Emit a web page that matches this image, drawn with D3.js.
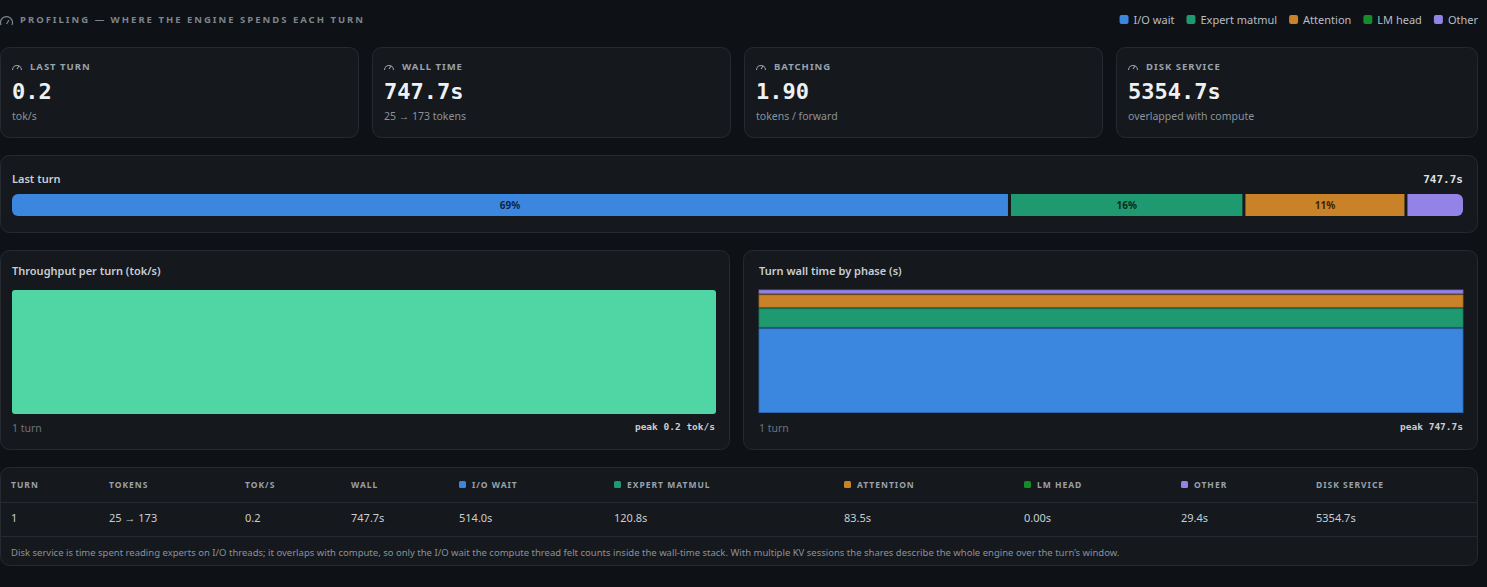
<!DOCTYPE html>
<html lang="en">
<head>
<meta charset="UTF-8">
<title>Profiling</title>
<script src="https://d3js.org/d3.v7.min.js"></script>
<style>
  body { margin: 0; background: #0e1115; font-family: "Noto Sans", "Open Sans", sans-serif; }
  text { font-family: "Noto Sans", "Open Sans", sans-serif; }
  .mono { font-family: "DejaVu Sans Mono", "Liberation Mono", monospace; font-weight: bold; }
  .card { fill: #15181c; stroke: #262a30; stroke-width: 1; }
  .cap { fill: #9aa1aa; font-size: 9.5px; font-weight: 700; letter-spacing: 1px; }
  .sub { fill: #8b929b; font-size: 10.5px; }
  .title { fill: #c9ced4; font-size: 11px; font-weight: 600; }
</style>
</head>
<body>
<svg id="chart" width="1487" height="587"></svg>
<script>
const phases = ["I/O wait", "Expert matmul", "Attention", "LM head", "Other"];
const phaseColors = ["#3b87e0", "#1f9a70", "#c98228", "#178a2a", "#9383e6"];
const turns = [1];
const tokensIn = [25];
const tokensOut = [173];
const tokPerSec = [0.2];
const wall = [747.7];
const phaseSeconds = [[514.0], [120.8], [83.5], [0.00], [29.4]];
const diskService = [5354.7];
const batching = 1.90;

const svg = d3.select("#chart");

// header
svg.append("path").attr("d", "M1,25 A6,6 0 1 1 12,25 M6.5,24 L9,20").attr("fill", "none").attr("stroke", "#7d848d").attr("stroke-width", 1.2);
svg.append("text").attr("class", "cap").attr("x", 20).attr("y", 23).style("fill", "#7d848d")
  .style("letter-spacing", "2px").text("PROFILING — WHERE THE ENGINE SPENDS EACH TURN");

// legend
let lx = 1478;
const legendItems = phases.map((p, i) => ({ p, c: phaseColors[i] })).reverse();
legendItems.forEach(d => {
  const t = svg.append("text").attr("y", 24).attr("font-size", 11).attr("fill", "#b8bec6").attr("text-anchor", "end").attr("x", lx).text(d.p);
  const w = t.node().getComputedTextLength();
  svg.append("rect").attr("x", lx - w - 14).attr("y", 15).attr("width", 9).attr("height", 9).attr("rx", 2).attr("fill", d.c);
  lx = lx - w - 26;
});

// stat cards
const stats = [
  { cap: "LAST TURN", val: tokPerSec[0].toFixed(1), sub: "tok/s" },
  { cap: "WALL TIME", val: wall[0].toFixed(1) + "s", sub: `${tokensIn[0]} → ${tokensOut[0]} tokens` },
  { cap: "BATCHING", val: batching.toFixed(2), sub: "tokens / forward" },
  { cap: "DISK SERVICE", val: diskService[0].toFixed(1) + "s", sub: "overlapped with compute" }
];
stats.forEach((s, i) => {
  const x = i * 372, w = i === 3 ? 1478 - x - 1 : 358;
  svg.append("rect").attr("class", "card").attr("x", x + 0.5).attr("y", 47.5).attr("width", w).attr("height", 90).attr("rx", 9);
  const g = svg.append("g").attr("transform", `translate(${x + 12},0)`);
  g.append("path").attr("d", "M0.5,70 A4.5,4.5 0 1 1 9.5,70 M5,69 L7,66").attr("fill", "none").attr("stroke", "#9aa1aa").attr("stroke-width", 1.1);
  g.append("text").attr("class", "cap").attr("x", 18).attr("y", 70).text(s.cap);
  g.append("text").attr("class", "mono").attr("x", 0).attr("y", 99).attr("font-size", 22).attr("fill", "#eef1f4").text(s.val);
  g.append("text").attr("class", "sub").attr("x", 0).attr("y", 120).text(s.sub);
});

// last turn bar
svg.append("rect").attr("class", "card").attr("x", 0.5).attr("y", 155.5).attr("width", 1477).attr("height", 77).attr("rx", 9);
svg.append("text").attr("class", "title").attr("x", 12).attr("y", 183).text("Last turn");
svg.append("text").attr("class", "mono").attr("x", 1463).attr("y", 183).attr("text-anchor", "end").attr("font-size", 11).attr("fill", "#dde1e5").text(wall[0].toFixed(1) + "s");
const bx = d3.scaleLinear().domain([0, wall[0]]).range([12, 1463]);
let acc = 0;
const segs = phases.map((p, i) => { const s = { v: phaseSeconds[i][0], x0: acc, c: phaseColors[i] }; acc += s.v; return s; }).filter(s => s.v > 0);
svg.append("clipPath").attr("id", "barclip").append("rect").attr("x", 12).attr("y", 194).attr("width", 1451).attr("height", 22).attr("rx", 6);
const bg = svg.append("g").attr("clip-path", "url(#barclip)");
segs.forEach((s, i) => {
  const x0 = bx(s.x0) + (i ? 1.5 : 0), x1 = bx(s.x0 + s.v) - (i < segs.length - 1 ? 1.5 : 0);
  bg.append("rect").attr("x", x0).attr("y", 194).attr("width", x1 - x0).attr("height", 22).attr("fill", s.c);
  const pct = Math.round(s.v / wall[0] * 100);
  if (pct >= 10) bg.append("text").attr("x", (x0 + x1) / 2).attr("y", 209).attr("text-anchor", "middle").attr("font-size", 10).attr("font-weight", 700).style("fill", "rgba(0,0,0,0.75)").text(pct + "%");
});

// chart cards
function chartCard(x, w, pad, title, peak) {
  svg.append("rect").attr("class", "card").attr("x", x + 0.5).attr("y", 250.5).attr("width", w).attr("height", 199).attr("rx", 9);
  svg.append("text").attr("class", "title").attr("x", x + pad).attr("y", 275).text(title);
  svg.append("text").attr("class", "sub").attr("x", x + pad).attr("y", 432).attr("font-size", 9.5).style("fill", "#6c737c").text(turns.length + " turn");
  svg.append("text").attr("class", "mono").attr("x", x + w - 14).attr("y", 430).attr("text-anchor", "end").attr("font-size", 9.5).attr("fill", "#c9ced4").text(peak);
}
chartCard(0, 729, 12, "Throughput per turn (tok/s)", `peak ${d3.max(tokPerSec).toFixed(1)} tok/s`);
chartCard(743, 734, 16, "Turn wall time by phase (s)", `peak ${d3.max(wall).toFixed(1)}s`);

const ty = d3.scaleLinear().domain([0, d3.max(tokPerSec)]).range([414, 290]);
const tx = d3.scaleBand().domain(turns).range([12, 716]);
svg.selectAll(".tp").data(tokPerSec).join("rect").attr("x", (d, i) => tx(turns[i])).attr("width", tx.bandwidth())
  .attr("y", d => ty(d)).attr("height", d => 414 - ty(d)).attr("rx", 3).attr("fill", "#4fd6a4");

const wy = d3.scaleLinear().domain([0, d3.max(wall)]).range([414, 290]);
const wx = d3.scaleBand().domain(turns).range([759, 1463]);
const rows = turns.map((t, j) => { const r = { turn: t }; phases.forEach((p, i) => r[p] = phaseSeconds[i][j]); return r; });
const stack = d3.stack().keys(phases)(rows);
stack.forEach((layer, i) => {
  layer.forEach(d => {
    if (d[1] - d[0] <= 0) return;
    svg.append("rect").attr("x", wx(d.data.turn)).attr("width", wx.bandwidth())
      .attr("y", wy(d[1])).attr("height", Math.max(1, wy(d[0]) - wy(d[1]) - 1.5))
      .attr("fill", phaseColors[i]).attr("stroke", d3.color(phaseColors[i]).darker(0.6)).attr("stroke-width", 0.8);
  });
});

// table
svg.append("rect").attr("class", "card").attr("x", 0.5).attr("y", 467.5).attr("width", 1477).attr("height", 98).attr("rx", 9);
svg.append("line").attr("x1", 1).attr("x2", 1477).attr("y1", 502.5).attr("y2", 502.5).attr("stroke", "#262a30");
svg.append("line").attr("x1", 1).attr("x2", 1477).attr("y1", 536.5).attr("y2", 536.5).attr("stroke", "#262a30");
const cols = ["TURN", "TOKENS", "TOK/S", "WALL", "I/O WAIT", "EXPERT MATMUL", "ATTENTION", "LM HEAD", "OTHER", "DISK SERVICE"];
const colX = [11, 109, 245, 351, 459, 614, 844, 1024, 1181, 1316];
const vals = [String(turns[0]), `${tokensIn[0]} → ${tokensOut[0]}`, tokPerSec[0].toFixed(1), wall[0].toFixed(1) + "s",
  ...phaseSeconds.map(p => (p[0] === 0 ? "0.00" : p[0].toFixed(1)) + "s"), diskService[0].toFixed(1) + "s"];
cols.forEach((c, i) => {
  let x = colX[i];
  if (i >= 4 && i <= 8) {
    svg.append("rect").attr("x", x).attr("y", 481).attr("width", 7).attr("height", 7).attr("rx", 1.5).attr("fill", phaseColors[i - 4]);
    x += 13;
  }
  svg.append("text").attr("class", "cap").attr("x", x).attr("y", 488).style("font-size", "8.5px").text(c);
  svg.append("text").attr("x", colX[i]).attr("y", 522).attr("font-size", 11).attr("fill", "#c9ced4").text(vals[i]);
});
svg.append("text").attr("x", 11).attr("y", 556).attr("font-size", 9.5).attr("fill", "#8b929b")
  .text("Disk service is time spent reading experts on I/O threads; it overlaps with compute, so only the I/O wait the compute thread felt counts inside the wall-time stack. With multiple KV sessions the shares describe the whole engine over the turn’s window.");
</script>
</body>
</html>
